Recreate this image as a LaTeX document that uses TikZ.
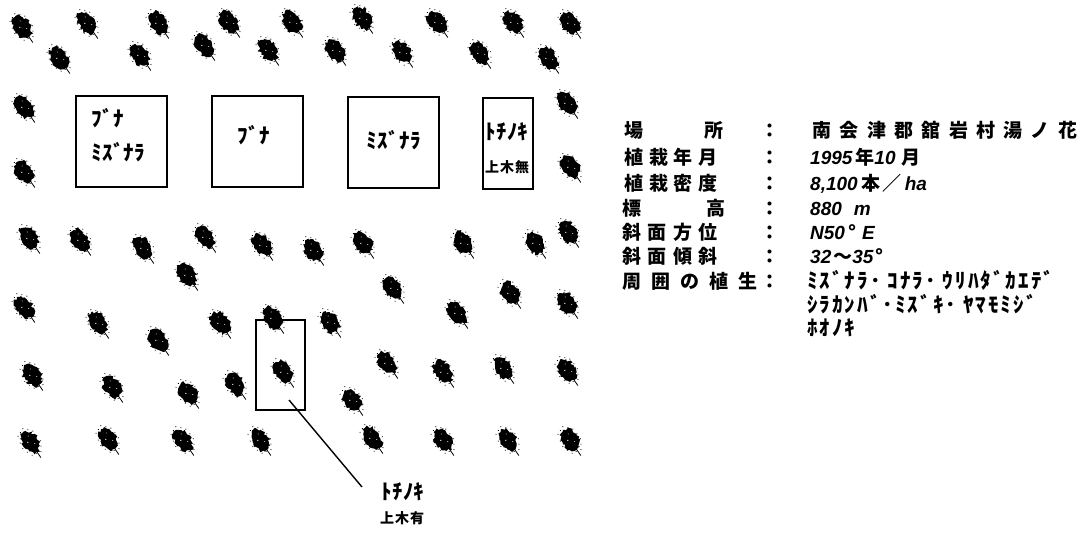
\documentclass[tikz,border=0pt]{standalone}
\usepackage{fontspec}
\usetikzlibrary{decorations.pathmorphing}
\newfontfamily\jpfont{Noto Sans CJK JP}
\newfontfamily\latfont{Liberation Sans}
% font switches
\newcommand\jb{\jpfont\bfseries}
\newcommand\lbi{\latfont\bfseries\itshape}
\newcommand\hkbox{\jpfont\bfseries\fontsize{21}{21}\selectfont\addfontfeatures{LetterSpace=2}}
\newcommand\hklist{\jpfont\bfseries\fontsize{21}{21}\selectfont\addfontfeatures{LetterSpace=10}}
% a row of evenly spaced characters: name, first centre x, baseline y, pitch, list
\newcommand\spacedrow[5]{%
  \foreach \ch [count=\k] in {#5}
    \node[lab] (#1-\k) at ({#2+(\k-1)*#4},#3) {\ch};}

\tikzset{
  plotbox/.style={draw, line width=1.5pt, inner sep=0pt},
  boxtxt/.style={font=\hkbox, inner sep=0pt},
  kanjismall/.style={font=\jb\fontsize{14}{14}\selectfont, inner sep=0pt},
  lab/.style={font=\jb\fontsize{19}{19}\selectfont, inner sep=0pt, anchor=base},
  colon/.style={font=\jb\fontsize{19}{19}\selectfont, inner sep=0pt, anchor=base},
  val/.style={font=\fontsize{19}{19}\selectfont, inner sep=0pt, anchor=base west},
  leader/.style={line width=1.4pt},
  pics/tree/.style={code={
    \begin{scope}[rotate=-55]
      % foliage mass
      \fill[decorate,decoration={random steps,segment length=2pt,amplitude=1.7pt}]
        (0,0) ellipse [x radius=12, y radius=8];
      % stem
      \draw[line width=0.8pt] (10,0) -- (19,0);
      % loose speckles round the edge
      \foreach \a/\f in {10/1.05, 35/1.18, 60/1.1, 85/1.14, 110/1.08, 140/1.2,
                         165/1.1, 190/1.22, 215/1.1, 240/1.16, 265/1.08, 290/1.15,
                         315/1.1, 340/1.2}
        \fill ({12.5*\f*cos(\a)},{8.5*\f*sin(\a)}) circle [radius=0.6];
      \fill[white] (-1,2) circle [radius=0.7] (-6,-2) circle [radius=0.5]
        (4,-3) circle [radius=0.5];
    \end{scope}
  }}
}

\begin{document}
\begin{tikzpicture}[x=1pt,y=-1pt]
\useasboundingbox (0,0) rectangle (1082,538);
\pgfmathsetseed{7}

% planted trees
\foreach \tx/\ty in {22/27, 87/23, 158/23, 229/22, 292/22, 362/18, 437/22, 513/22, 570/23,
    59/58, 140/55, 204/45, 268/50, 335/50, 402/52, 480/53, 548/58,
    24/107, 24/172, 567/103, 570/167,
    29/238, 80/240, 143/248, 205/237, 262/245, 313/250, 363/243, 463/243, 535/243, 568/232, 187/275,
    24/307, 98/323, 158/340, 220/323, 273/318, 330/322, 393/288, 457/313, 510/293, 567/303,
    32/375, 112/387, 188/393, 235/384, 283/372, 352/400, 387/363, 443/372, 503/368, 567/370,
    30/442, 108/439, 183/440, 260/440, 372/438, 443/440, 508/440, 570/440}
  \pic at (\tx,\ty) {tree};

% plots
\node[plotbox, minimum width=91pt, minimum height=91pt] (b1) at (121.5,141.5) {};
\node[plotbox, minimum width=91pt, minimum height=91pt] (b2) at (257.5,141.5) {};
\node[plotbox, minimum width=91pt, minimum height=91pt] (b3) at (393.5,142.5) {};
\node[plotbox, minimum width=50pt, minimum height=91pt] (b4) at (508,143.5) {};
\node[plotbox, minimum width=49pt, minimum height=90pt] (b5) at (280.5,365) {};

\node[boxtxt, anchor=west] (b1a) at (91,118) {ﾌﾞﾅ};
\node[boxtxt, anchor=west] (b1b) at (91,152) {ﾐｽﾞﾅﾗ};
\node[boxtxt] (b2a) at (254,135) {ﾌﾞﾅ};
\node[boxtxt] (b3a) at (394,140) {ﾐｽﾞﾅﾗ};
\node[boxtxt, anchor=west] (b4a) at (485,132) {ﾄﾁﾉｷ};
\node[kanjismall, anchor=west] (b4b) at (485,167) {上\hspace{1pt}木\hspace{1pt}無};

% plot with standing trees
\coordinate (tip) at (289,400);
\coordinate (lend) at (362,487);
\draw[leader] (tip) -- (lend);
\node[boxtxt, anchor=west] (b5a) at (381,492) {ﾄﾁﾉｷ};
\node[kanjismall, anchor=west] (b5b) at (380,518) {上\hspace{1pt}木\hspace{1pt}有};

% site data
\node[lab] (l1a) at (634,137) {場};
\node[lab] (l1b) at (714,137) {所};
\spacedrow{l2}{634}{164}{24.7}{植,栽,年,月}
\spacedrow{l3}{634}{190}{24.7}{植,栽,密,度}
\node[lab] (l4a) at (632,215) {標};
\node[lab] (l4b) at (716,215) {高};
\spacedrow{l5}{632}{239}{25.3}{斜,面,方,位}
\spacedrow{l6}{632}{263}{25.3}{斜,面,傾,斜}
\spacedrow{l7}{632}{288}{29}{周,囲,の,植,生}

\foreach \cy [count=\r] in {137,164,190,215,239,263,288}
  \node[colon] (c\r) at (770,\cy) {：};

\spacedrow{v1}{822}{137}{27.3}{南,会,津,郡,舘,岩,村,湯,ノ,花}
\node[val] (v2) at (810,164) {\lbi 1995\hspace{3pt}\jb 年\lbi 10\hspace{6pt}\jb 月};
\node[val] (v3) at (810,190) {\lbi 8,100\hspace{4pt}\jb 本\hspace{2pt}／\hspace{3pt}\lbi ha};
\node[val] (v4) at (810,215) {\lbi 880\hspace{12pt}\latfont m};
\node[val] (v5) at (810,239) {\lbi N50\hspace{3pt}\jb °\hspace{6pt}\lbi E};
\node[val] (v6) at (810,263) {\lbi 32\hspace{2pt}\jb ～\lbi 35\hspace{2pt}\jb °};
\node[font=\hklist, inner sep=0pt, anchor=base west] (v7) at (807,288) {ﾐｽﾞﾅﾗ･ ｺﾅﾗ･ ｳﾘﾊﾀﾞｶｴﾃﾞ};
\node[font=\hklist, inner sep=0pt, anchor=base west] (v8) at (807,312) {ｼﾗｶﾝﾊﾞ･ﾐｽﾞｷ･ ﾔﾏﾓﾐｼﾞ};
\node[font=\hklist, inner sep=0pt, anchor=base west] (v9) at (807,335) {ﾎｵﾉｷ};
\end{tikzpicture}
\end{document}
